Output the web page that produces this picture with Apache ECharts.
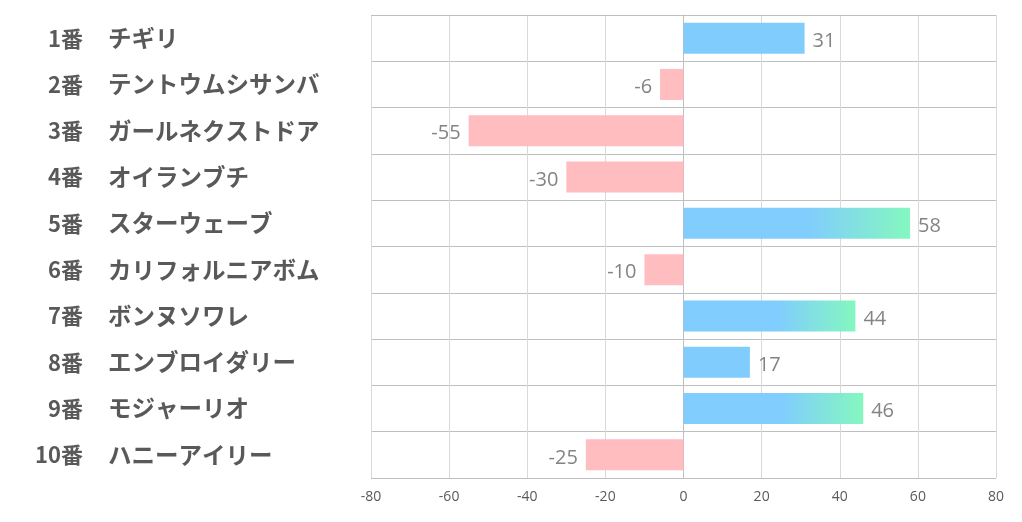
<!DOCTYPE html>
<html><head><meta charset="utf-8">
<script src="https://cdn.jsdelivr.net/npm/echarts@6/dist/echarts.min.js"></script>
<style>html,body{margin:0;padding:0;background:#fff}#c{width:1022px;height:522px}</style>
</head><body><div id="c"></div>
<script>
const numbers = ['1番','2番','3番','4番','5番','6番','7番','8番','9番','10番'];
const names = ['チギリ','テントウムシサンバ','ガールネクストドア','オイランブチ','スターウェーブ','カリフォルニアボム','ボンヌソワレ','エンブロイダリー','モジャーリオ','ハニーアイリー'];
const values = [31,-6,-55,-30,58,-10,44,17,46,-25];
const xTicks = [-80,-60,-40,-20,0,20,40,60,80];

const BLUE = '#7ccbfd', GREEN = '#80f7bd', PINK = '#ffbbbd';
const FONT = '"Noto Sans CJK JP",sans-serif';
function barColor(v){
  if (v < 0) return PINK;
  if (v >= 40) return new echarts.graphic.LinearGradient(0,0,1,0,[
    {offset:0,color:BLUE},{offset:0.55,color:BLUE},{offset:1,color:GREEN}]);
  return BLUE;
}
const chart = echarts.init(document.getElementById('c'), null, {renderer:'canvas'});
chart.setOption({
  animation:false,
  grid:{left:371,right:26,top:15,bottom:44,containLabel:false},
  xAxis:{type:'value',min:xTicks[0],max:xTicks[xTicks.length-1],interval:20,
    axisLine:{show:false},axisTick:{show:false},
    splitLine:{show:true,lineStyle:{color:'#d9d9d9',width:1}},
    axisLabel:{color:'#595959',fontSize:14,margin:12,fontFamily:'"Open Sans","Noto Sans",sans-serif'}},
  yAxis:[
    {type:'category',inverse:true,data:names,position:'left',
      axisLine:{show:true,lineStyle:{color:'#bfbfbf'}},axisTick:{show:false},
      splitLine:{show:true,lineStyle:{color:'#bfbfbf',width:1}},
      axisLabel:{align:'left',margin:263,fontSize:23.5,fontWeight:'bold',color:'#595959',
        fontFamily:FONT,padding:[0,0,3,0]}},
    {type:'category',inverse:true,data:numbers,position:'left',
      axisLine:{show:false},axisTick:{show:false},splitLine:{show:false},
      axisLabel:{align:'right',margin:288,fontSize:22,fontWeight:'bold',color:'#595959',
        fontFamily:FONT,padding:[0,0,3,0]}}
  ],
  series:[{type:'bar',barWidth:'67%',yAxisIndex:0,
    data:values.map(v=>({value:v,itemStyle:{color:barColor(v),opacity:0.97},
      label:{show:true,position:v<0?'left':'right',distance:8}})),
    label:{color:'#7f7f7f',fontSize:20,offset:[0,3],fontFamily:'"Open Sans","Noto Sans",sans-serif'}
  }],
  graphic:[{type:'line',shape:{x1:371,y1:15.5,x2:996,y2:15.5},style:{stroke:'#bfbfbf',lineWidth:1},z:10},
           {type:'line',shape:{x1:371,y1:478.5,x2:996,y2:478.5},style:{stroke:'#bfbfbf',lineWidth:1},z:10}]
});
</script></body></html>
